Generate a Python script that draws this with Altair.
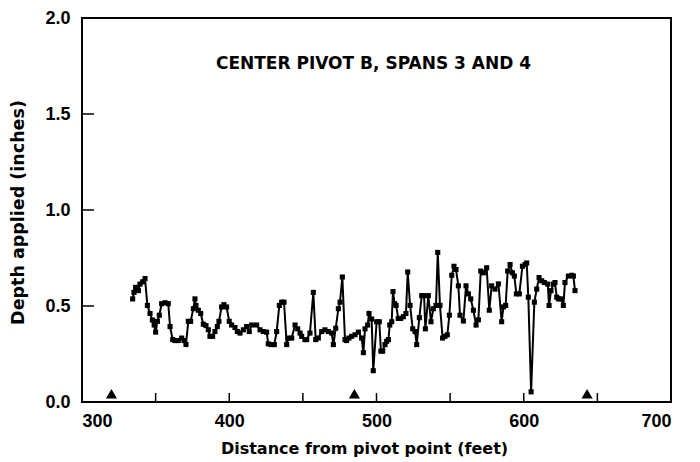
import altair as alt
import pandas as pd

# ---- data ----
distance_ft = [
    334.4, 335.3, 336.4, 338.3, 339.4, 341.2, 342.8, 344.4, 346.2, 347.8,
    349.0, 350.0, 351.2, 352.5, 354.1, 356.4, 358.6, 359.8, 361.6, 363.2,
    365.4, 367.7, 369.3, 370.6, 372.2, 373.8, 375.6, 376.7, 377.4, 379.0,
    380.6, 382.4, 384.2, 385.8, 386.9, 388.7, 390.3, 391.9, 393.0, 394.8,
    396.4, 398.2, 400.0, 401.6, 403.9, 405.5, 407.3, 409.6, 411.8, 413.6,
    415.2, 418.6, 420.9, 423.1, 425.4, 426.5, 428.4, 430.6, 432.2, 434.0,
    435.6, 437.2, 439.0, 440.1, 442.4, 444.7, 446.5, 448.1, 449.2, 451.4,
    452.6, 454.8, 457.1, 458.7, 460.5, 462.8, 465.0, 467.3, 469.6, 470.7,
    472.3, 474.1, 475.2, 476.8, 478.6, 479.7, 481.3, 483.1, 485.4, 487.7,
    489.9, 491.1, 492.2, 494.0, 494.9, 496.7, 497.8, 500.1, 501.9, 503.0,
    504.2, 505.8, 506.9, 508.1, 509.0, 510.3, 511.2, 512.3, 513.3, 514.8,
    516.4, 518.2, 520.0, 521.2, 522.8, 524.6, 526.2, 527.3, 529.1, 530.7,
    532.3, 533.2, 535.2, 537.0, 538.6, 540.4, 541.6, 543.1, 544.9, 546.5,
    548.1, 549.5, 551.1, 552.6, 554.0, 555.6, 556.7, 559.0, 560.8, 562.4,
    564.0, 565.8, 567.6, 569.2, 570.8, 572.6, 574.8, 576.6, 578.2, 580.5,
    582.8, 585.0, 586.2, 587.7, 589.1, 590.7, 592.3, 593.6, 595.0, 597.0,
    599.1, 600.9, 602.0, 603.1, 605.0, 607.2, 608.8, 610.4, 612.2, 614.0,
    616.3, 617.2, 618.5, 620.1, 621.2, 622.4, 623.5, 625.3, 626.9, 628.0,
    630.3, 632.6, 633.7, 634.8,
]
depth_in = [
    0.537, 0.571, 0.597, 0.580, 0.614, 0.626, 0.643, 0.503, 0.461, 0.427,
    0.401, 0.364, 0.420, 0.452, 0.512, 0.517, 0.512, 0.393, 0.325, 0.320,
    0.320, 0.333, 0.320, 0.300, 0.420, 0.420, 0.486, 0.537, 0.503, 0.478,
    0.461, 0.405, 0.398, 0.376, 0.342, 0.342, 0.367, 0.393, 0.420, 0.495,
    0.507, 0.495, 0.420, 0.401, 0.388, 0.367, 0.359, 0.376, 0.393, 0.367,
    0.401, 0.401, 0.376, 0.367, 0.364, 0.303, 0.299, 0.299, 0.367, 0.503,
    0.520, 0.520, 0.299, 0.333, 0.333, 0.401, 0.381, 0.359, 0.342, 0.325,
    0.325, 0.359, 0.571, 0.325, 0.333, 0.367, 0.376, 0.367, 0.359, 0.299,
    0.384, 0.486, 0.520, 0.651, 0.325, 0.320, 0.333, 0.342, 0.350, 0.364,
    0.333, 0.257, 0.381, 0.401, 0.461, 0.432, 0.163, 0.418, 0.418, 0.265,
    0.265, 0.299, 0.316, 0.325, 0.401, 0.418, 0.575, 0.512, 0.503, 0.435,
    0.435, 0.444, 0.461, 0.677, 0.503, 0.381, 0.367, 0.299, 0.439, 0.554,
    0.554, 0.381, 0.554, 0.418, 0.486, 0.503, 0.779, 0.503, 0.333, 0.342,
    0.350, 0.452, 0.660, 0.707, 0.690, 0.605, 0.452, 0.422, 0.605, 0.563,
    0.537, 0.478, 0.401, 0.428, 0.682, 0.673, 0.699, 0.478, 0.605, 0.588,
    0.615, 0.418, 0.495, 0.503, 0.682, 0.716, 0.673, 0.656, 0.563, 0.563,
    0.707, 0.716, 0.724, 0.546, 0.053, 0.520, 0.588, 0.648, 0.631, 0.622,
    0.614, 0.503, 0.580, 0.614, 0.622, 0.546, 0.537, 0.537, 0.503, 0.622,
    0.656, 0.660, 0.656, 0.580,
]
tower_ft = [320, 485, 643]
tower_depth = [0.043, 0.043, 0.043]
x_labels = [300, 400, 500, 600, 700]
x_inner_ticks = [350, 400, 450, 500, 550, 600, 650]
y_labels = [0.0, 0.5, 1.0, 1.5, 2.0]
y_inner_ticks = [0.5, 1.0, 1.5]

W, H = 589, 384
xs = alt.Scale(domain=[300, 700], nice=False, zero=False)
ys = alt.Scale(domain=[0, 2], nice=False, zero=True)

ax_x = alt.Axis(
    values=x_labels, format="d", title="Distance from pivot point (feet)",
    ticks=False, tickSize=0, domain=False, grid=False,
    labelFont="Liberation Sans", labelFontWeight="bold", labelFontSize=18,
    labelColor="black", labelPadding=10,
    titleFont="DejaVu Sans", titleFontWeight="bold", titleFontSize=16,
    titleColor="black", titleBaseline="middle", titleAlign="center",
    titleY=46, titleX=282,
)
ax_y = alt.Axis(
    values=y_labels, format=".1f", title="Depth applied (inches)",
    ticks=False, tickSize=0, domain=False, grid=False,
    labelFont="Liberation Sans", labelFontWeight="bold", labelFontSize=18,
    labelColor="black", labelPadding=12,
    titleFont="DejaVu Sans", titleFontWeight="bold", titleFontSize=17.5,
    titleColor="black", titleBaseline="middle", titleAlign="center",
    titleX=-64, titleY=194,
)

df = pd.DataFrame({"d": distance_ft, "v": depth_in})
towers = pd.DataFrame({"d": tower_ft, "v": tower_depth})
xt = pd.DataFrame({"d": x_inner_ticks})
yt = pd.DataFrame({"v": y_inner_ticks})

line = alt.Chart(df).mark_line(
    color="black", strokeWidth=2,
    point=alt.OverlayMarkDef(shape="square", size=26, filled=True, color="black", opacity=1),
).encode(
    x=alt.X("d:Q", scale=xs, axis=ax_x),
    y=alt.Y("v:Q", scale=ys, axis=ax_y),
)

tri = alt.Chart(towers).mark_point(
    shape="triangle-up", size=125, filled=True, color="black", opacity=1
).encode(
    x=alt.X("d:Q", scale=xs, axis=ax_x),
    y=alt.Y("v:Q", scale=ys, axis=ax_y),
)

xticks = alt.Chart(xt).mark_rule(color="black", strokeWidth=1.5).encode(
    x=alt.X("d:Q", scale=xs, axis=ax_x),
    y=alt.value(H), y2=alt.value(H - 9),
)

yticks = alt.Chart(yt).mark_rule(color="black", strokeWidth=1.5).encode(
    y=alt.Y("v:Q", scale=ys, axis=ax_y),
    x=alt.value(0), x2=alt.value(12),
)

chart = alt.layer(line, tri, xticks, yticks).properties(
    width=W, height=H,
    title=alt.TitleParams(
        "CENTER PIVOT B, SPANS 3 AND 4", font="DejaVu Sans", fontWeight="bold",
        fontSize=17, color="black", anchor="middle", frame="group",
        baseline="middle", offset=0, dy=72, dx=-3,
    ),
    padding={"left": 74, "top": 10, "right": 21, "bottom": 60},
    autosize=alt.AutoSizeParams(type="none"),
    background="white",
).configure_view(stroke="black", strokeWidth=2)

chart.save("out.html", embed_options={"renderer": "svg", "actions": False})
